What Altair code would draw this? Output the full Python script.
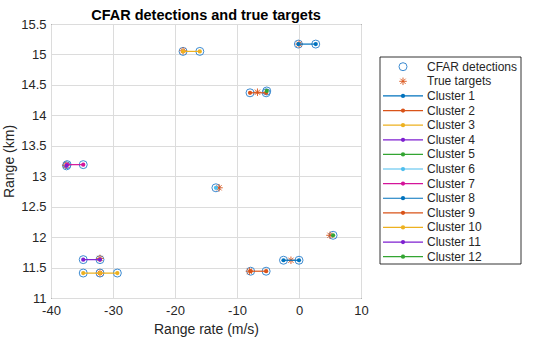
import altair as alt
import pandas as pd

# ---------------- data ----------------
cluster_names = [f"Cluster {i}" for i in range(1, 13)]
cluster_colors = ["#0072BD", "#D95319", "#EDB120", "#7E1FD0", "#33A532", "#4DBEEE",
                  "#D4149A", "#0072BD", "#D95319", "#EDB120", "#7E1FD0", "#33A532"]

det_cluster = [1, 1, 2, 2, 3, 3, 4, 4, 5, 6, 7, 7, 8, 8, 9, 9, 10, 10, 10, 11, 12]
det_rate = [-0.1, 2.7, -7.9, -5.3, -18.7, -16.0, -34.8, -32.1, -5.2, -13.4, -37.4, -34.8,
            -2.5, 0.0, -7.8, -5.3, -34.8, -32.1, -29.3, -37.5, 5.5]
det_range = [15.17, 15.17, 14.37, 14.37, 15.05, 15.05, 11.63, 11.63, 14.40, 12.81, 13.19, 13.19,
             11.62, 11.62, 11.44, 11.44, 11.41, 11.41, 11.41, 13.17, 12.03]

target_rate = [0.0, -6.7, -18.7, -12.9, 5.0, -1.3, -32.1, -32.1, -8.0, -37.6]
target_range = [15.17, 14.38, 15.06, 12.81, 12.03, 11.62, 11.65, 11.41, 11.44, 13.18]

x_ticks = [-40, -30, -20, -10, 0, 10]
y_ticks = [11, 11.5, 12, 12.5, 13, 13.5, 14, 14.5, 15, 15.5]

legend_labels = ["CFAR detections", "True targets"] + cluster_names

# ---------------- tables ----------------
det_df = pd.DataFrame({
    "rate": det_rate,
    "range": det_range,
    "cluster": [cluster_names[c - 1] for c in det_cluster],
    "order": list(range(len(det_rate))),
})
tgt_df = pd.DataFrame({"rate": target_rate, "range": target_range})
leg_df = pd.DataFrame({
    "label": legend_labels,
    "kind": ["det", "tgt"] + ["cluster"] * 12,
    "color": ["#3d8bd1", "#D95319"] + cluster_colors,
})

FONT = "Liberation Sans"
DET_COLOR = "#3d8bd1"
TGT_COLOR = "#D95319"
ASTERISK = "M-1,0L1,0M0,-1L0,1M-0.7,-0.7L0.7,0.7M-0.7,0.7L0.7,-0.7"

x_enc = alt.X("rate:Q", scale=alt.Scale(domain=[-40, 10], nice=False, zero=False),
              axis=alt.Axis(values=x_ticks, title="Range rate (m/s)",
                            labelExpr="replace(datum.label, '\u2212', '-')",
                            labelFlush=False, labelPadding=6, titlePadding=5))
y_enc = alt.Y("range:Q", scale=alt.Scale(domain=[11, 15.5], nice=False, zero=False),
              axis=alt.Axis(values=y_ticks, format="~g", title="Range (km)",
                            labelFlush=False, labelPadding=5, titlePadding=4))
col_enc = alt.Color("cluster:N", scale=alt.Scale(domain=cluster_names, range=cluster_colors),
                    legend=None)

dets = alt.Chart(det_df).mark_point(shape="circle", filled=False, size=64, strokeWidth=1,
                                    color=DET_COLOR, opacity=1).encode(x=x_enc, y=y_enc)
tgts = alt.Chart(tgt_df).mark_point(shape=ASTERISK, filled=False, size=56, strokeWidth=0.9,
                                    color=TGT_COLOR, opacity=1).encode(x=x_enc, y=y_enc)
lines = alt.Chart(det_df).mark_line(strokeWidth=1.2).encode(
    x=x_enc, y=y_enc, color=col_enc)
dots = alt.Chart(det_df).mark_circle(size=18, opacity=1).encode(
    x=x_enc, y=y_enc, color=col_enc, order="order:Q")

main = alt.layer(dets, tgts, lines, dots)

# ---------------- legend ----------------
ly = alt.Y("label:N", sort=legend_labels,
           scale=alt.Scale(type="point", domain=legend_labels, range=[42.7, 232.7], padding=0),
           axis=None)
lc = alt.Color("color:N", scale=None, legend=None)

box = alt.Chart(alt.Data(values=[{"a": 1}])).mark_rect(
    fill="white", stroke="black", strokeWidth=0.8).encode(
    x=alt.value(329), x2=alt.value(470), y=alt.value(33), y2=alt.value(240))
leg_rules = alt.Chart(leg_df).transform_filter("datum.kind == 'cluster'").mark_rule(
    strokeWidth=1.2).encode(x=alt.value(332), x2=alt.value(372), y=ly, color=lc)
leg_dots = alt.Chart(leg_df).transform_filter("datum.kind == 'cluster'").mark_circle(
    size=18, opacity=1).encode(x=alt.value(352), y=ly, color=lc)
leg_det = alt.Chart(leg_df).transform_filter("datum.kind == 'det'").mark_point(
    shape="circle", filled=False, size=64, strokeWidth=1, opacity=1).encode(
    x=alt.value(352), y=ly, color=lc)
leg_tgt = alt.Chart(leg_df).transform_filter("datum.kind == 'tgt'").mark_point(
    shape=ASTERISK, filled=False, size=56, strokeWidth=0.9, opacity=1).encode(
    x=alt.value(352), y=ly, color=lc)
leg_text = alt.Chart(leg_df).mark_text(align="left", baseline="middle", font=FONT,
                                       fontSize=12, color="#262626").encode(
    x=alt.value(376), y=ly, text="label:N")

legend = alt.layer(box, leg_rules, leg_dots, leg_det, leg_tgt, leg_text)

chart = alt.layer(main, legend).resolve_scale(
    y="independent", color="independent"
).properties(
    width=310, height=274,
    background="white",
    title=alt.TitleParams("CFAR detections and true targets", font=FONT, fontSize=14.5,
                          fontWeight="bold", color="#000000", anchor="middle",
                          frame="group", offset=0, dy=5),
    autosize=alt.AutoSizeParams(type="none"),
    padding={"left": 51, "top": 24, "right": 199, "bottom": 39},
).configure_view(
    stroke="#000000", strokeWidth=1
).configure_axis(
    labelFont=FONT, labelFontSize=13, labelColor="#262626",
    titleFont=FONT, titleFontSize=14, titleColor="#262626", titleFontWeight="normal",
    domain=False, ticks=False, grid=True, gridColor="#dcdcdc", gridWidth=1,
    labelOverlap=False,
)

chart.save("out.html", embed_options={"renderer": "svg", "actions": False})
